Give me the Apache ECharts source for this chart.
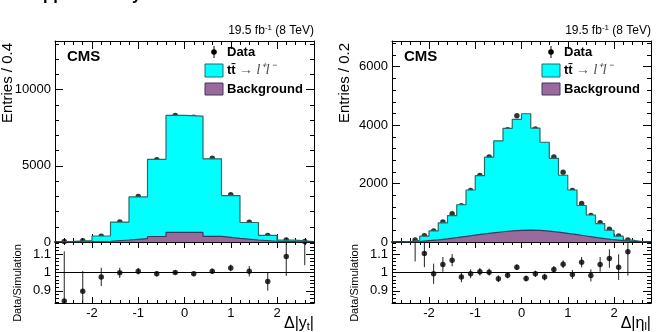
<!DOCTYPE html>
<html>
<head>
<meta charset="utf-8">
<script src="https://cdn.jsdelivr.net/npm/echarts@6/dist/echarts.min.js"></script>
<style>
  html, body { margin: 0; padding: 0; background: #fff; }
  #main { width: 662px; height: 332px; }
</style>
</head>
<body>
<div id="main"></div>
<script>
// left: delta |y_t|, bins of 0.4
var edgesY = [-2.8, -2.4, -2.0, -1.6, -1.2, -0.8, -0.4, 0, 0.4, 0.8, 1.2, 1.6, 2.0, 2.4, 2.8]
var mcY = [35, 100, 395, 1310, 2960, 5430, 8320, 8260, 5460, 3040, 1280, 440, 120, 28]
var bkgY = [5, 20, 50, 130, 225, 360, 630, 630, 370, 240, 130, 50, 20, 5]
var dataY = [30, 90, 385, 1310, 2990, 5400, 8310, 8200, 5500, 3100, 1290, 420, 130, 35]
var ratioY = [0.845, 0.898, 0.976, 0.998, 1.007, 0.993, 1.0, 0.993, 1.007, 1.025, 1.007, 0.951, 1.087, 1.25]
var ratioErrY = [0.27, 0.11, 0.05, 0.028, 0.018, 0.014, 0.011, 0.011, 0.014, 0.018, 0.028, 0.05, 0.105, 0.21]

// right: delta |eta_l|, bins of 0.2
var edgesEta = [-2.8, -2.6, -2.4, -2.2, -2.0, -1.8, -1.6, -1.4, -1.2, -1.0, -0.8, -0.6, -0.4, -0.2, 0,
  0.2, 0.4, 0.6, 0.8, 1.0, 1.2, 1.4, 1.6, 1.8, 2.0, 2.2, 2.4, 2.6, 2.8]
var mcEta = [0, 10, 60, 200, 378, 655, 905, 1275, 1780, 2270, 2905, 3460, 3890, 4200,
  4390, 3895, 3415, 2865, 2285, 1780, 1250, 925, 632, 402, 200, 62, 10, 0]
var bkgEta = [0, 3, 15, 45, 75, 110, 150, 190, 235, 275, 315, 350, 380, 400,
  405, 395, 370, 335, 295, 250, 205, 160, 115, 78, 45, 18, 4, 0]
var dataEta = [null, null, 68, 218, 375, 682, 968, 1240, 1763, 2275, 2911, 3343, 3843, 4320,
  4240, 3866, 3331, 2911, 2388, 1763, 1320, 910, 660, 433, 205, 68, null, null]
var ratioEta = [null, null, 1.19, 1.104, 0.993, 1.044, 1.067, 0.975, 0.993, 1.004, 1.002, 0.966, 0.985, 1.029,
  0.967, 0.993, 0.975, 1.016, 1.045, 0.989, 1.056, 0.984, 1.044, 1.076, 1.029, 1.113, null, null]
var ratioErrEta = [0, 0, 0.13, 0.075, 0.055, 0.04, 0.033, 0.028, 0.024, 0.021, 0.019, 0.018, 0.017, 0.016,
  0.016, 0.017, 0.018, 0.019, 0.021, 0.024, 0.028, 0.033, 0.04, 0.05, 0.07, 0.13, 0, 0]

var FONT = '"Liberation Sans", Arial, sans-serif'
var CYAN = '#00ffff'
var CYAN_LINE = '#2a6a6a'
var PURPLE = '#9a6a9c'
var PURPLE_LINE = '#3a3a58'

// step outline for a histogram, from bin edges
function stepData(edges, vals) {
  var d = [[edges[0], 0]]
  for (var i = 0; i < vals.length; i++) {
    d.push([edges[i], vals[i]])
  }
  d.push([edges[edges.length - 1], vals[vals.length - 1]])
  d.push([edges[edges.length - 1], 0])
  return d
}

function points(edges, vals, errs) {
  var out = []
  for (var i = 0; i < vals.length; i++) {
    if (vals[i] === null) continue
    var c = (edges[i] + edges[i + 1]) / 2
    out.push(errs ? [c, vals[i], errs[i]] : [c, vals[i]])
  }
  return out
}

function plain(v) {
  return String(v)
}

function xAx(grid, pos, labels, lineW, tickLen) {
  return {
    type: 'value', gridIndex: grid, position: pos, min: -2.8, max: 2.8, splitNumber: 6,
    axisLine: { show: true, onZero: false, lineStyle: { color: '#000', width: lineW } },
    axisTick: { inside: true, length: tickLen, lineStyle: { color: '#000' } },
    minorTick: { show: true, splitNumber: 5, length: tickLen / 2, lineStyle: { color: '#000' } },
    axisLabel: { show: labels, showMinLabel: false, showMaxLabel: false, margin: 4,
      color: '#000', fontSize: 13, fontFamily: FONT, formatter: plain },
    splitLine: { show: false }
  }
}

function yAx(grid, pos, min, max, interval, labels) {
  var ax = {
    type: 'value', gridIndex: grid, position: pos, min: min, max: max,
    axisLine: { show: true, onZero: false, lineStyle: { color: '#000' } },
    axisTick: { inside: true, length: 8, lineStyle: { color: '#000' } },
    minorTick: { show: true, splitNumber: 5, length: 4, lineStyle: { color: '#000' } },
    axisLabel: { show: labels, showMinLabel: interval ? true : false, showMaxLabel: false, margin: 4,
      color: '#000', fontSize: 13, fontFamily: FONT, formatter: plain },
    splitLine: { show: false }
  }
  if (interval) ax.interval = interval
  else ax.splitNumber = 3
  return ax
}

function errorBars(name, xi, yi, data) {
  return {
    name: name, type: 'custom', xAxisIndex: xi, yAxisIndex: yi, clip: true, silent: true,
    data: data,
    renderItem: function(params, api) {
      var lo = api.coord([api.value(0), api.value(1) - api.value(2)])
      var hi = api.coord([api.value(0), api.value(1) + api.value(2)])
      return {
        type: 'line',
        shape: { x1: lo[0], y1: lo[1], x2: hi[0], y2: hi[1] },
        style: { stroke: '#222', lineWidth: 1 }
      }
    }
  }
}

function histSeries(xi, yi, edges, vals, fill, line) {
  return {
    type: 'line', step: 'end', xAxisIndex: xi, yAxisIndex: yi, symbol: 'none', silent: true,
    data: stepData(edges, vals),
    lineStyle: { color: line, width: 1.2 },
    areaStyle: { color: fill, opacity: 1 }
  }
}

function dots(xi, yi, data) {
  return {
    type: 'scatter', xAxisIndex: xi, yAxisIndex: yi, symbolSize: 5.5, clip: true, silent: true,
    itemStyle: { color: '#000' }, data: data
  }
}

function unity(xi, yi) {
  return {
    type: 'line', xAxisIndex: xi, yAxisIndex: yi, symbol: 'none', silent: true,
    data: [[-2.8, 1], [2.8, 1]], lineStyle: { color: '#000', width: 1 }
  }
}

// legend + labels of one panel, dx = horizontal shift
function panelText(dx, entriesLabel, xTitle) {
  var g = [
    { type: 'text', x: 67 + dx, y: 57, style: { text: 'CMS', font: 'bold 15px ' + FONT, fill: '#000', verticalAlign: 'middle' } },
    { type: 'text', x: 314 + dx, y: 31, style: {
      text: '{a|19.5 fb}{s|-1}{a| (8 TeV)}', align: 'right', verticalAlign: 'middle',
      rich: { a: { fontSize: 12, fontFamily: FONT, fill: '#000' },
        s: { fontSize: 8, fontFamily: FONT, fill: '#000', padding: [0, 0, 7, 0] } } } },
    { type: 'line', shape: { x1: 214 + dx, y1: 46, x2: 214 + dx, y2: 58 }, style: { stroke: '#000', lineWidth: 1 } },
    { type: 'circle', shape: { cx: 214 + dx, cy: 52, r: 2.8 }, style: { fill: '#000' } },
    { type: 'text', x: 227 + dx, y: 52, style: { text: 'Data', font: 'bold 13px ' + FONT, fill: '#000', verticalAlign: 'middle' } },
    { type: 'rect', shape: { x: 205 + dx, y: 64, width: 18, height: 13 }, style: { fill: CYAN, stroke: CYAN_LINE, lineWidth: 1 } },
    { type: 'text', x: 227 + dx, y: 70, style: {
      text: '{b|tt\u0304} {a|\u2192} {i|l\u207Al\u207B}', verticalAlign: 'middle',
      rich: { b: { fontSize: 13, fontWeight: 'bold', fontFamily: FONT, fill: '#000' },
        a: { fontSize: 14, fontFamily: FONT, fill: '#555' },
        i: { fontSize: 15, fontStyle: 'italic', fontFamily: '"Liberation Serif", serif', fill: '#555' } } } },
    { type: 'rect', shape: { x: 205 + dx, y: 83, width: 18, height: 12 }, style: { fill: PURPLE, stroke: PURPLE_LINE, lineWidth: 1 } },
    { type: 'text', x: 227 + dx, y: 89, style: { text: 'Background', font: 'bold 13px ' + FONT, fill: '#000', verticalAlign: 'middle' } },
    { type: 'text', x: 8 + dx, y: 43, rotation: Math.PI / 2, style: {
      text: entriesLabel, font: '15px ' + FONT, fill: '#000', align: 'right', verticalAlign: 'middle' } },
    { type: 'text', x: 18 + dx, y: 283, rotation: Math.PI / 2, style: {
      text: 'Data/Simulation', font: '11px ' + FONT, fill: '#000', align: 'center', verticalAlign: 'middle' } },
    { type: 'text', x: 314 + dx, y: 324, style: {
      text: xTitle, align: 'right', verticalAlign: 'middle',
      rich: { a: { fontSize: 16, fontFamily: FONT, fill: '#000' },
        s: { fontSize: 11, fontFamily: FONT, fill: '#000', padding: [6, 0, 0, 0] } } } }
  ]
  return g
}

var chart = echarts.init(document.getElementById('main'))
chart.setOption({
  animation: false,
  backgroundColor: '#fff',
  grid: [
    { left: 55, top: 41, width: 259, height: 201 },
    { left: 55, top: 242, width: 259, height: 61 },
    { left: 392, top: 41, width: 259, height: 201 },
    { left: 392, top: 242, width: 259, height: 61 }
  ],
  xAxis: [
    xAx(0, 'bottom', false, 1.5, 8), xAx(0, 'top', false, 1, 8),
    xAx(1, 'bottom', true, 1, 6), xAx(1, 'top', false, 1.5, 6),
    xAx(2, 'bottom', false, 1.5, 8), xAx(2, 'top', false, 1, 8),
    xAx(3, 'bottom', true, 1, 6), xAx(3, 'top', false, 1.5, 6)
  ],
  yAxis: [
    yAx(0, 'left', 0, 13200, 5000, true), yAx(0, 'right', 0, 13200, 5000, false),
    yAx(1, 'left', 0.834, 1.166, null, true), yAx(1, 'right', 0.834, 1.166, null, false),
    yAx(2, 'left', 0, 6880, 2000, true), yAx(2, 'right', 0, 6880, 2000, false),
    yAx(3, 'left', 0.834, 1.166, null, true), yAx(3, 'right', 0.834, 1.166, null, false)
  ],
  series: [
    histSeries(0, 0, edgesY, mcY, CYAN, CYAN_LINE),
    histSeries(0, 0, edgesY, bkgY, PURPLE, PURPLE_LINE),
    dots(0, 0, points(edgesY, dataY)),
    unity(2, 2),
    errorBars('ratioY', 2, 2, points(edgesY, ratioY, ratioErrY)),
    dots(2, 2, points(edgesY, ratioY)),

    histSeries(4, 4, edgesEta, mcEta, CYAN, CYAN_LINE),
    histSeries(4, 4, edgesEta, bkgEta, PURPLE, PURPLE_LINE),
    dots(4, 4, points(edgesEta, dataEta)),
    unity(6, 6),
    errorBars('ratioEta', 6, 6, points(edgesEta, ratioEta, ratioErrEta)),
    dots(6, 6, points(edgesEta, ratioEta))
  ],
  graphic: panelText(0, 'Entries / 0.4', '{a|\u0394|y}{s|t}{a||}')
    .concat(panelText(337, 'Entries / 0.2', '{a|\u0394|\u03B7}{s|l}{a||}'))
    .concat([{ type: 'text', x: 22, y: -5, style: { text: 'Supplementary', font: 'bold 16.5px ' + FONT, fill: '#000', verticalAlign: 'middle' } }])
})
</script>
</body>
</html>
